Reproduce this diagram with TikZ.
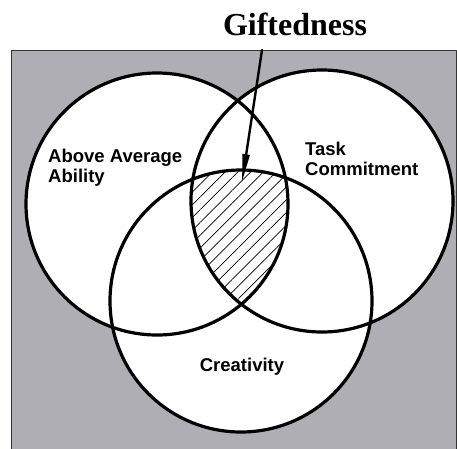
\documentclass[tikz,border=0pt]{standalone}
\usepackage{fontspec}
\setmainfont{Liberation Serif}
\newfontfamily\venfont{Liberation Sans}
\usetikzlibrary{arrows.meta,patterns.meta}
\definecolor{screen}{RGB}{174,174,180}

\begin{document}
\begin{tikzpicture}[
    x=1pt,y=-1pt,
    line cap=round,line join=round,
    ring/.style={draw=black,line width=3.2pt},
    setname/.style={font=\venfont\bfseries\fontsize{18.5}{20}\selectfont,
        align=left,inner sep=0pt},
    pointer/.style={line width=2.4pt,-{Triangle[length=28pt,width=7pt]}}
]
    \useasboundingbox (0,0) rectangle (457,448);
    % halftone backdrop
    \fill[screen,draw=black!80,line width=0.8pt] (11,50) rectangle (456,452);
    \coordinate (ability) at (157,204);
    \coordinate (task) at (322,201);
    \coordinate (creativity) at (241,301);
    \foreach \c in {ability,task,creativity}
        \fill[white] (\c) circle (131);
    % gifted core = all three sets
    \begin{scope}
        \clip (ability) circle (131);
        \clip (task) circle (131);
        \fill[pattern={Lines[angle=45,distance=9pt,line width=0.7pt]}]
            (creativity) circle (131);
    \end{scope}
    \foreach \c in {ability,task,creativity}
        \draw[ring] (\c) circle (131);
    \node[font=\bfseries\fontsize{32}{34}\selectfont,anchor=base] (gifted)
        at (295,35) {Giftedness};
    \node[setname,anchor=north west] (abilitytext) at (48,149)
        {Above Average\\Ability};
    \node[setname,anchor=north west] (tasktext) at (305,142)
        {Task\\Commitment};
    \node[setname] (creativitytext) at (242,367) {Creativity};
    \coordinate (arrowtop) at (262,50);
    \coordinate (core) at (242,182);
    \draw[pointer] (arrowtop) -- (core);
\end{tikzpicture}
\end{document}
